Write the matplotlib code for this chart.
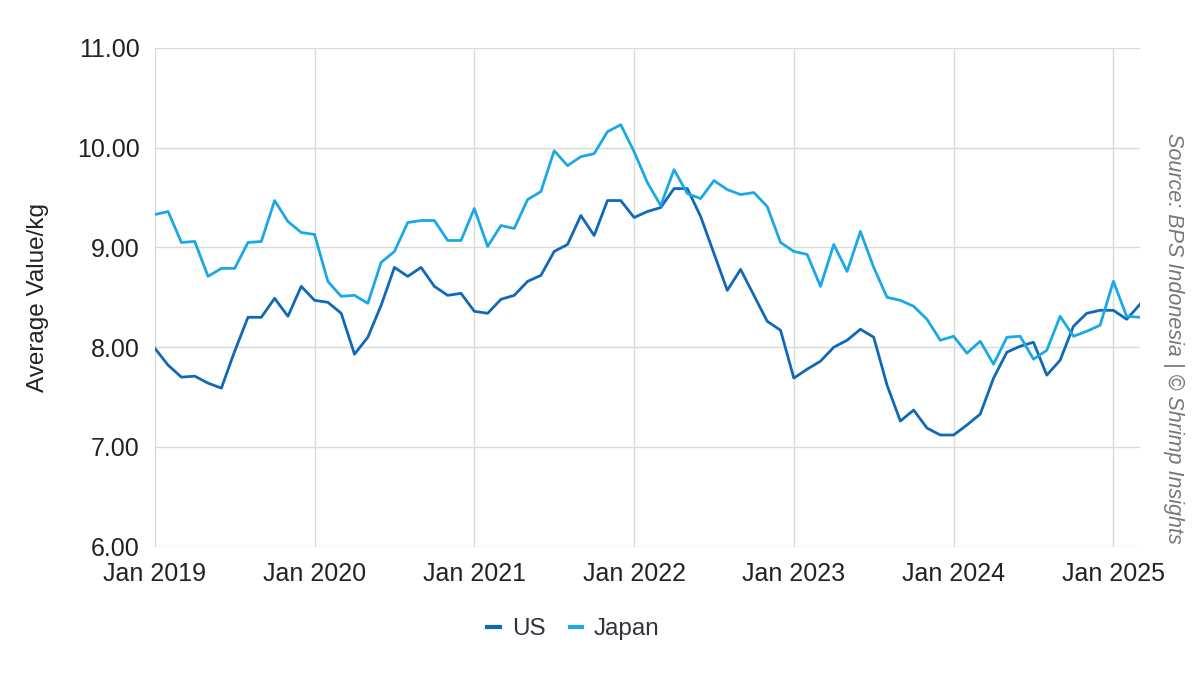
import matplotlib.pyplot as plt
import numpy as np

plt.rcParams['font.family'] = ['Liberation Sans', 'DejaVu Sans']

# monthly values, Jan 2019 .. Mar 2025
us = [7.99, 7.82, 7.70, 7.71, 7.64, 7.59, 7.96, 8.30, 8.30, 8.49, 8.31, 8.61,
      8.47, 8.45, 8.34, 7.93, 8.10, 8.42, 8.80, 8.71, 8.80, 8.61, 8.52, 8.54,
      8.36, 8.34, 8.48, 8.52, 8.66, 8.72, 8.96, 9.03, 9.32, 9.12, 9.47, 9.47,
      9.30, 9.36, 9.40, 9.59, 9.59, 9.31, 8.94, 8.57, 8.78, 8.52, 8.26, 8.17,
      7.69, 7.78, 7.86, 8.00, 8.07, 8.18, 8.10, 7.62, 7.26, 7.37, 7.19, 7.12,
      7.12, 7.22, 7.33, 7.69, 7.95, 8.01, 8.05, 7.72, 7.87, 8.21, 8.34, 8.37,
      8.37, 8.28, 8.43]
japan = [9.33, 9.36, 9.05, 9.06, 8.71, 8.79, 8.79, 9.05, 9.06, 9.47, 9.26, 9.15,
         9.13, 8.66, 8.51, 8.52, 8.44, 8.85, 8.96, 9.25, 9.27, 9.27, 9.07, 9.07,
         9.39, 9.01, 9.22, 9.19, 9.48, 9.56, 9.97, 9.82, 9.91, 9.94, 10.16, 10.23,
         9.96, 9.65, 9.42, 9.78, 9.54, 9.49, 9.67, 9.58, 9.53, 9.55, 9.41, 9.05,
         8.96, 8.93, 8.61, 9.03, 8.76, 9.16, 8.80, 8.50, 8.47, 8.41, 8.28, 8.07,
         8.11, 7.94, 8.06, 7.83, 8.10, 8.11, 7.88, 7.97, 8.31, 8.11, 8.16, 8.22,
         8.66, 8.31, 8.30]
tick_labels = ['Jan 2019', 'Jan 2020', 'Jan 2021', 'Jan 2022',
               'Jan 2023', 'Jan 2024', 'Jan 2025']
y_ticks = [6, 7, 8, 9, 10, 11]

x = np.arange(len(us))

fig = plt.figure(figsize=(12, 6.75), dpi=100)
ax = fig.add_axes([0.129, 0.19, 0.821, 0.739])

ax.plot(x, us, color='#1068b8', lw=2, label='US', zorder=3)
ax.plot(x, japan, color='#1ba8e6', lw=2, label='Japan', zorder=3)

ax.set_xlim(0, len(us) - 1)
ax.set_ylim(6, 11)
ax.set_xticks(np.arange(0, len(us), 12))
ax.set_xticklabels(tick_labels)
ax.set_yticks(y_ticks)
ax.set_yticklabels([f'{v:.2f}' for v in y_ticks])
ax.tick_params(length=0, labelsize=18, colors='#222222')
ax.tick_params(axis='x', pad=11)
ax.tick_params(axis='y', pad=11)
ax.grid(True, color='#d9d9d9', lw=1)
ax.set_axisbelow(True)
for s in ax.spines.values():
    s.set_visible(False)

ax.set_ylabel('Average Value/kg', fontsize=17.5, color='#222222', labelpad=20)

leg = fig.legend(loc='center', bbox_to_anchor=(0.478, 0.068), ncol=2, frameon=False,
                 fontsize=17.5, handlelength=0.5, handletextpad=0.5, columnspacing=1.0)
for line in leg.get_lines():
    line.set_linewidth(3)
for t in leg.get_texts():
    t.set_color('#333340')

fig.text(0.978, 0.499, 'Source: BPS Indonesia | © Shrimp Insights', rotation=270,
         ha='center', va='center', fontsize=15.5, style='italic', color='#777777')

fig.savefig('out.png', dpi=100)
